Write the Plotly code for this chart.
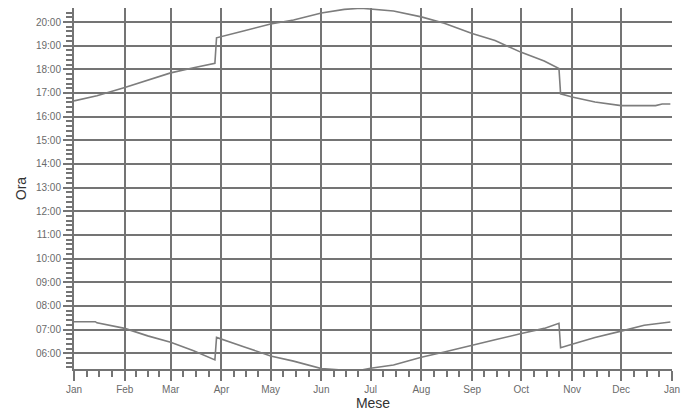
import plotly.graph_objects as go
import pandas as pd

# ---- data (local time, Italy, with DST jumps) ----
sunset_dates = ["2023-01-01", "2023-01-15", "2023-02-01", "2023-02-15", "2023-03-01",
                "2023-03-15", "2023-03-28", "2023-03-29", "2023-04-01", "2023-04-15",
                "2023-05-01", "2023-05-15", "2023-06-01", "2023-06-15", "2023-06-25",
                "2023-07-01", "2023-07-15", "2023-08-01", "2023-08-15", "2023-09-01",
                "2023-09-15", "2023-10-01", "2023-10-15", "2023-10-24", "2023-10-25",
                "2023-11-01", "2023-11-15", "2023-12-01", "2023-12-22", "2023-12-26",
                "2023-12-31"]
sunset_times = ["16:40", "16:53", "17:14", "17:33", "17:51",
                "18:04", "18:15", "19:20", "19:23", "19:38",
                "19:55", "20:05", "20:23", "20:32", "20:35",
                "20:33", "20:28", "20:13", "19:57", "19:31",
                "19:13", "18:43", "18:21", "18:02", "16:58",
                "16:50", "16:37", "16:28", "16:28", "16:32",
                "16:32"]

sunrise_dates = ["2023-01-01", "2023-01-14", "2023-01-15", "2023-02-01", "2023-02-15",
                 "2023-03-01", "2023-03-15", "2023-03-28", "2023-03-29", "2023-04-01",
                 "2023-04-15", "2023-05-01", "2023-05-15", "2023-06-01", "2023-06-15",
                 "2023-06-25", "2023-07-01", "2023-07-15", "2023-08-01", "2023-08-15",
                 "2023-09-01", "2023-09-15", "2023-10-01", "2023-10-15", "2023-10-24",
                 "2023-10-25", "2023-11-01", "2023-11-15", "2023-12-01", "2023-12-15",
                 "2023-12-31"]
sunrise_times = ["07:20", "07:20", "07:17", "07:03", "06:44",
                 "06:28", "06:06", "05:43", "06:40", "06:36",
                 "06:16", "05:53", "05:40", "05:21", "05:17",
                 "05:17", "05:22", "05:30", "05:50", "06:03",
                 "06:19", "06:34", "06:50", "07:03", "07:16",
                 "06:14", "06:23", "06:40", "06:56", "07:11",
                 "07:19"]

month_starts = ["2023-01-01", "2023-02-01", "2023-03-01", "2023-04-01", "2023-05-01",
                "2023-06-01", "2023-07-01", "2023-08-01", "2023-09-01", "2023-10-01",
                "2023-11-01", "2023-12-01", "2024-01-01"]
month_labels = ["Jan", "Feb", "Mar", "Apr", "May", "Jun", "Jul", "Aug", "Sep",
                "Oct", "Nov", "Dec", "Jan"]

x_title = "Mese"
y_title = "Ora"

DAY0 = "2000-01-01 "
def to_clock(ts):
    return [DAY0 + t for t in ts]

# minor ticks: each month split into four parts
ms = pd.to_datetime(month_starts)
minor_x = []
for a, b in zip(ms[:-1], ms[1:]):
    for k in (1, 2, 3):
        minor_x.append((a + (b - a) * k / 4).strftime("%Y-%m-%d %H:%M"))

line_col = "#7d7d7d"
grid_col = "#747474"

fig = go.Figure()
fig.add_trace(go.Scatter(x=sunset_dates, y=to_clock(sunset_times), mode="lines",
                         line=dict(color=line_col, width=1.6), showlegend=False))
fig.add_trace(go.Scatter(x=sunrise_dates, y=to_clock(sunrise_times), mode="lines",
                         line=dict(color=line_col, width=1.6), showlegend=False))

fig.update_layout(
    width=692, height=412,
    margin=dict(l=74, r=20, t=8, b=43),
    paper_bgcolor="white", plot_bgcolor="white",
    font=dict(family="Liberation Sans, Arial, sans-serif", color="#666666", size=10),
    xaxis=dict(
        type="date",
        range=[month_starts[0], month_starts[-1]],
        tickmode="array", tickvals=month_starts, ticktext=month_labels,
        showgrid=True, gridcolor=grid_col, gridwidth=2,
        showline=True, linecolor=grid_col, linewidth=2,
        ticks="outside", ticklen=10, tickwidth=2, tickcolor=grid_col,
        tickfont=dict(size=10, color="#6a6a6a"),
        minor=dict(tickmode="array", tickvals=minor_x, ticks="outside",
                   ticklen=6, tickwidth=2, tickcolor=grid_col, showgrid=False),
        zeroline=False,
        title=dict(text=x_title, font=dict(size=14, color="#333333"), standoff=0),
        automargin=False,
    ),
    yaxis=dict(
        type="date",
        range=[DAY0 + "05:20", DAY0 + "20:35:30"],
        tickformat="%H:%M", dtick=3600000, tick0=DAY0 + "00:00",
        showgrid=True, gridcolor=grid_col, gridwidth=2,
        showline=True, linecolor=grid_col, linewidth=2,
        ticks="outside", ticklen=9, tickwidth=2, tickcolor=grid_col,
        tickfont=dict(size=10, color="#6a6a6a"),
        minor=dict(dtick=720000, tick0=DAY0 + "00:00", ticks="outside",
                   ticklen=6, tickwidth=2, tickcolor=grid_col, showgrid=False),
        zeroline=False,
        title=dict(text=y_title, font=dict(size=14, color="#333333"), standoff=6),
        automargin=False,
    ),
)

fig.write_html("out.html", config={"displayModeBar": False},
               post_script="document.body.style.margin='0';")
